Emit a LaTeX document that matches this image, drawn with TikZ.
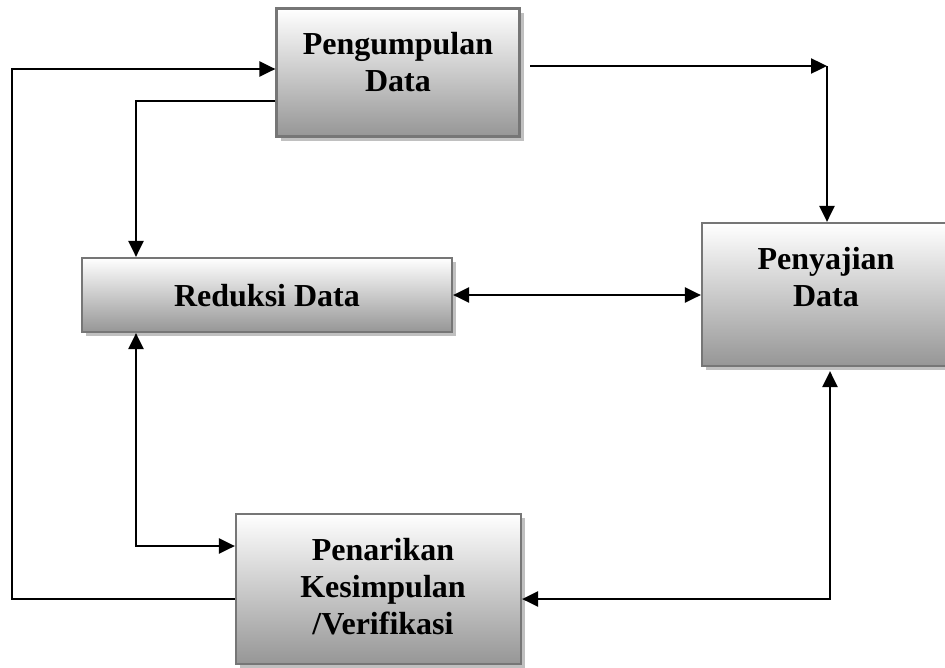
\documentclass[tikz,border=0pt]{standalone}
\usepackage{fontspec}
\setmainfont{Liberation Serif}
\usetikzlibrary{arrows.meta,shadows}
\definecolor{boxline}{RGB}{118,118,118}
\definecolor{boxbot}{RGB}{150,150,150}
\definecolor{shadowc}{RGB}{192,192,192}
\begin{document}
\begin{tikzpicture}[x=1pt,y=-1pt,
  box/.style={draw=boxline, line width=2.2pt, top color=white, bottom color=boxbot,
    drop shadow={shadow xshift=4pt,shadow yshift=-4pt,fill=shadowc,opacity=1},
    inner sep=0pt},
  lbl/.style={font=\fontsize{32}{37}\selectfont\bfseries, align=center, inner sep=0pt},
  tip/.style={},
  conn/.style={line width=2.4pt, -{Triangle[length=16pt,width=15pt]}},
  conntwo/.style={line width=2.4pt, {Triangle[length=16pt,width=15pt]}-{Triangle[length=16pt,width=15pt]}}]
\useasboundingbox (0,0) rectangle (945,667);
% boxes
\node[box, minimum width=243pt, minimum height=128pt] (P) at (398,72.5) {};
\node[box, minimum width=246pt, minimum height=143pt] (S) at (825,294.5) {};
\node[box, minimum width=370pt, minimum height=74pt] (R) at (267,295) {};
\node[box, minimum width=285pt, minimum height=150pt] (K) at (378.5,589) {};
% labels
\node[lbl] (tP) at (398,62) {Pengumpulan\\Data};
\node[lbl] (tS) at (826,277) {Penyajian\\Data};
\node[lbl] (tR) at (267,296) {Reduksi Data};
\node[lbl] (tK) at (383,587) {Penarikan\\Kesimpulan\\/Verifikasi};
% connectors
\coordinate (pa) at (530,66);
\coordinate (pc) at (827,66);
\coordinate (lc) at (12,69);
\draw[conn] (pa) -- (pc);
\draw[conn] (pc) -- (pc |- S.north);
\draw[conn] ([yshift=-10pt]K.west) -| (lc) -- (lc -| P.west);
\draw[conn] ([yshift=-28.5pt]P.west) -| ([xshift=-131pt]R.north);
\draw[conntwo] ([xshift=-131pt]R.south) |- ([yshift=43pt]K.west);
\draw[conntwo] (R.east) -- (R.east -| S.west);
\draw[conntwo] ([xshift=5pt,yshift=-4pt]S.south) |- ([yshift=-10pt]K.east);
\end{tikzpicture}
\end{document}
